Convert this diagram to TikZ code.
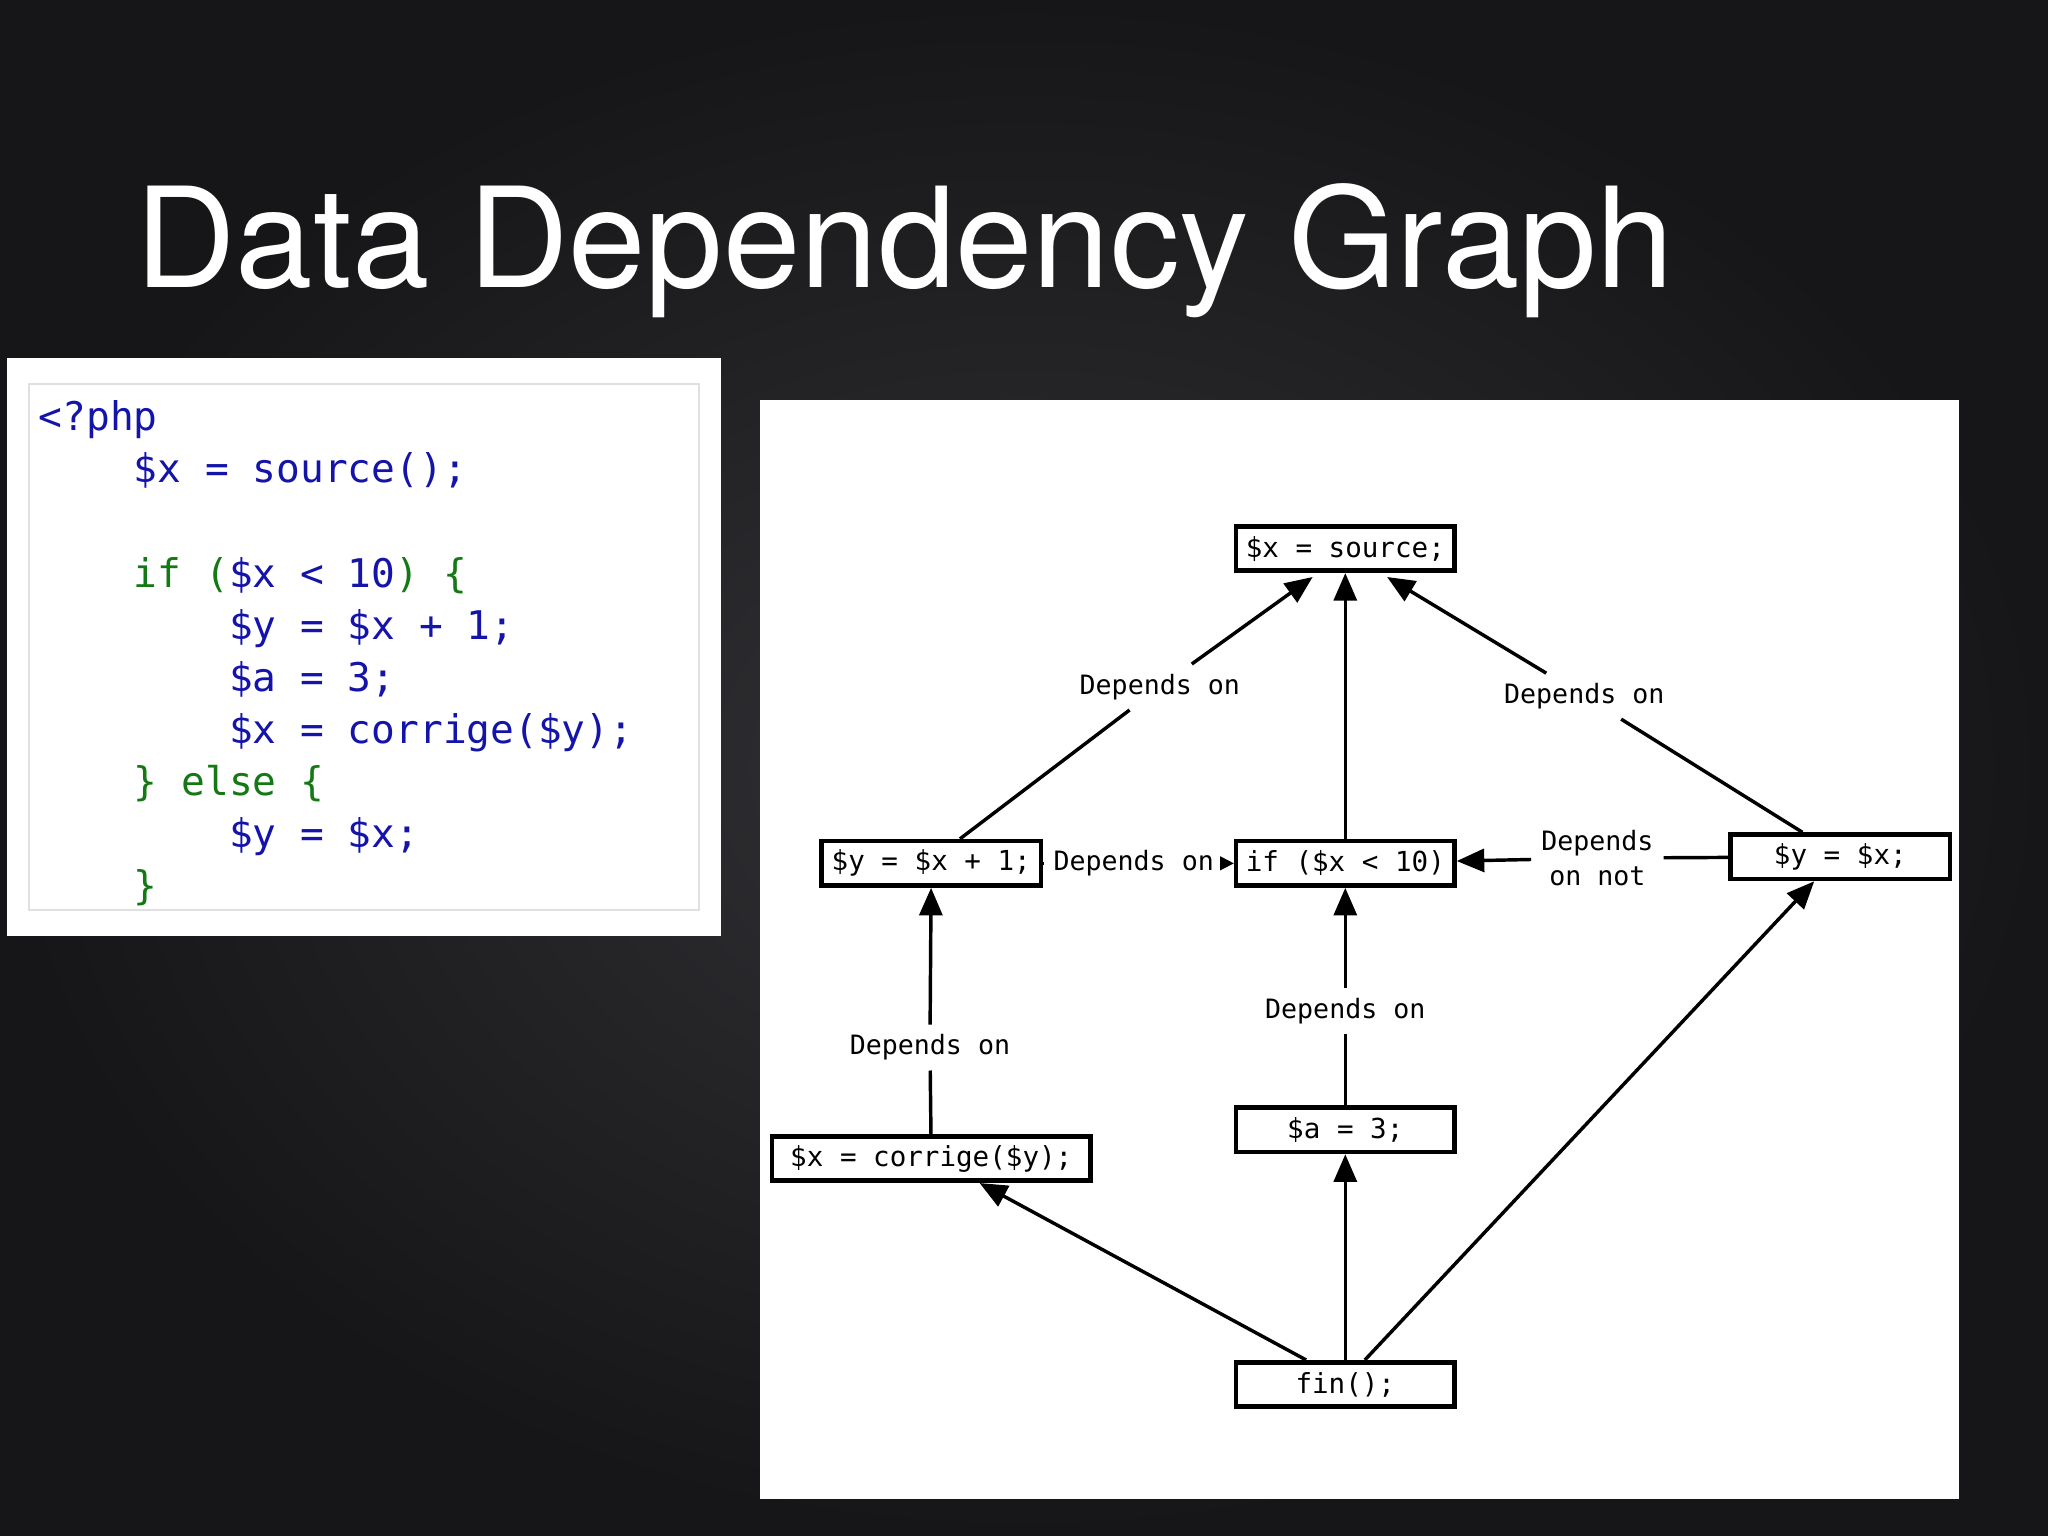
\documentclass[tikz,border=0pt]{standalone}
\usepackage{fontspec}
\setmainfont{TeX Gyre Heros}
\newfontfamily\codefont{DejaVu Sans Mono}
\usetikzlibrary{arrows.meta,calc}
\definecolor{bgc}{RGB}{50,50,54}
\definecolor{bgo}{RGB}{22,22,24}
\definecolor{kwb}{RGB}{20,20,170}
\definecolor{kwg}{RGB}{20,120,20}
\begin{document}
\begin{tikzpicture}[x=0.01cm,y=-0.01cm,
  box/.style={draw=black,line width=1pt,fill=white,inner sep=0pt,minimum height=0.34cm,font=\codefont\fontsize{6pt}{7pt}\selectfont},
  lab/.style={fill=white,inner sep=2pt,font=\codefont\fontsize{5.8pt}{7.5pt}\selectfont,align=center},
  ed/.style={line width=0.75pt},
  ar/.style={ed,-{Triangle[length=6pt,width=5pt]}}]
\useasboundingbox (0,0) rectangle (1568,1176);
\shade[inner color=bgc,outer color=bgo] (0,0) rectangle (1568,1176);
\node[anchor=base west,text=white,font=\fontsize{30.3pt}{35pt}\selectfont,inner sep=0pt] (title) at (103,220) {Data Dependency Graph};
% code box
\fill[white] (5,274) rectangle (552,717);
\draw[black!12] (22,294) rectangle (535,697);
\node[anchor=north west,inner sep=0pt,align=left,font=\codefont\fontsize{8.6pt}{11.35pt}\selectfont] (code) at (29,306) {%
\textcolor{kwb}{<?php}\\
\textcolor{kwb}{\ \ \ \ \$x = source();}\\
\mbox{}\\
\textcolor{kwg}{\ \ \ \ if (}\textcolor{kwb}{\$x < 10}\textcolor{kwg}{) \{}\\
\textcolor{kwb}{\ \ \ \ \ \ \ \ \$y = \$x + 1;}\\
\textcolor{kwb}{\ \ \ \ \ \ \ \ \$a = 3;}\\
\textcolor{kwb}{\ \ \ \ \ \ \ \ \$x = corrige(\$y);}\\
\textcolor{kwg}{\ \ \ \ \} else \{}\\
\textcolor{kwb}{\ \ \ \ \ \ \ \ \$y = \$x;}\\
\textcolor{kwg}{\ \ \ \ \}}};
% graph panel
\fill[white] (582,306) rectangle (1500,1148);
\node[box,minimum width=1.67cm] (src) at (1030,420) {\$x = source;};
\node[box,minimum width=1.68cm] (yx1) at (713,661) {\$y = \$x + 1;};
\node[box,minimum width=1.67cm] (if) at (1030,661) {if (\$x < 10)};
\node[box,minimum width=1.68cm] (yx) at (1409,656) {\$y = \$x;};
\node[box,minimum width=2.44cm] (corr) at (713,887) {\$x = corrige(\$y);};
\node[box,minimum width=1.67cm] (a3) at (1030,865) {\$a = 3;};
\node[box,minimum width=1.67cm] (fin) at (1030,1060) {fin();};
\node[lab] (l1) at (888,526) {Depends on};
\node[lab] (l2) at (1213,533) {Depends on};
\node[lab] (l3) at (868,661) {Depends on};
\node[lab] (l4) at (1223,657) {Depends\\on not};
\node[lab] (l5) at (712,802) {Depends on};
\node[lab] (l6) at (1030,774) {Depends on};
\draw[ed] ($(yx1.north)+(22,0)$) -- (l1);
\draw[ar] (l1) -- ($(src.south)+(-25,3)$);
\draw[ar] (if) -- (src);
\draw[ed] ($(yx.north)+(-29,0)$) -- (l2);
\draw[ar] (l2) -- ($(src.south)+(32,3)$);
\draw[ed] (yx1) -- (l3);
\draw[-{Triangle[length=3pt,width=3pt]},line width=0.4pt] (l3) -- (if);
\draw[ed] (yx) -- (l4);
\draw[ar] (l4) -- (if);
\draw[ed] (corr) -- (l5);
\draw[ar] (l5) -- (yx1);
\draw[ed] (a3) -- (l6);
\draw[ar] (l6) -- (if);
\draw[ar] ($(fin.north)+(-30,0)$) -- ($(corr.south)+(37,0)$);
\draw[ar] (fin) -- (a3);
\draw[ar] ($(fin.north)+(15,0)$) -- ($(yx.south)+(-20,0)$);
\end{tikzpicture}
\end{document}
